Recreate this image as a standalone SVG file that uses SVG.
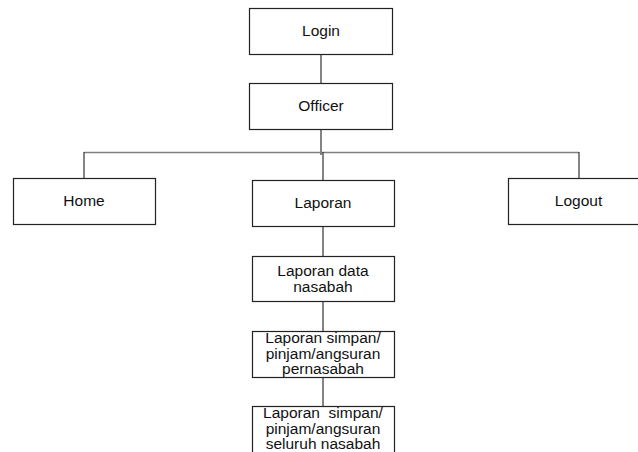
<svg xmlns="http://www.w3.org/2000/svg" width="638" height="452" viewBox="0 0 638 452">
  <style>
    .box { fill: #ffffff; stroke: #222222; stroke-width: 1.2; }
    .lbl { font-family: "Liberation Sans", Arial, sans-serif; font-size: 15.5px; fill: #111111; text-anchor: middle; white-space: pre; }
    .wire { fill: none; stroke: #333333; stroke-width: 1.2; }
    .bus { fill: none; stroke: #808080; stroke-width: 1.6; }
  </style>
  <rect width="638" height="452" fill="#ffffff"/>

  <!-- connectors -->
  <g id="connectors">
    <path class="wire" d="M321 54 V83"/>
    <path class="wire" d="M321 129 V155"/>
    <path class="bus" d="M84 152.5 H579"/>
    <path class="wire" d="M84 152 V178"/>
    <path class="wire" d="M323 152 V180"/>
    <path class="wire" d="M579 152 V178"/>
    <path class="wire" d="M323 226 V256"/>
    <path class="wire" d="M323 301 V331"/>
    <path class="wire" d="M323 377 V406"/>
  </g>

  <g id="login">
    <rect class="box" x="249.5" y="8.5" width="143" height="46"/>
    <text class="lbl" x="321" y="35.5">Login</text>
  </g>

  <g id="officer">
    <rect class="box" x="249.5" y="83.5" width="143" height="46"/>
    <text class="lbl" x="321" y="110.5">Officer</text>
  </g>

  <g id="home">
    <rect class="box" x="13.5" y="178.5" width="142" height="46"/>
    <text class="lbl" x="84" y="206">Home</text>
  </g>

  <g id="laporan">
    <rect class="box" x="252.5" y="180.5" width="142" height="46"/>
    <text class="lbl" x="323" y="208">Laporan</text>
  </g>

  <g id="logout">
    <rect class="box" x="508.5" y="178.5" width="150" height="46"/>
    <text class="lbl" x="578.5" y="206">Logout</text>
  </g>

  <g id="laporan-data-nasabah">
    <rect class="box" x="252.5" y="256.5" width="142" height="45"/>
    <text class="lbl" x="323" y="276">Laporan data</text>
    <text class="lbl" x="323" y="291.5">nasabah</text>
  </g>

  <g id="laporan-pernasabah">
    <rect class="box" x="252.5" y="331.5" width="142" height="46"/>
    <text class="lbl" x="323" y="343">Laporan simpan/</text>
    <text class="lbl" x="323" y="358.5">pinjam/angsuran</text>
    <text class="lbl" x="323" y="374">pernasabah</text>
  </g>

  <!-- last box runs past the bottom edge of the page -->
  <g id="laporan-seluruh-nasabah">
    <rect class="box" x="252.5" y="406.5" width="142" height="50"/>
    <text class="lbl" x="323" y="418">Laporan  simpan/</text>
    <text class="lbl" x="323" y="433.5">pinjam/angsuran</text>
    <text class="lbl" x="323" y="449">seluruh nasabah</text>
  </g>
</svg>
